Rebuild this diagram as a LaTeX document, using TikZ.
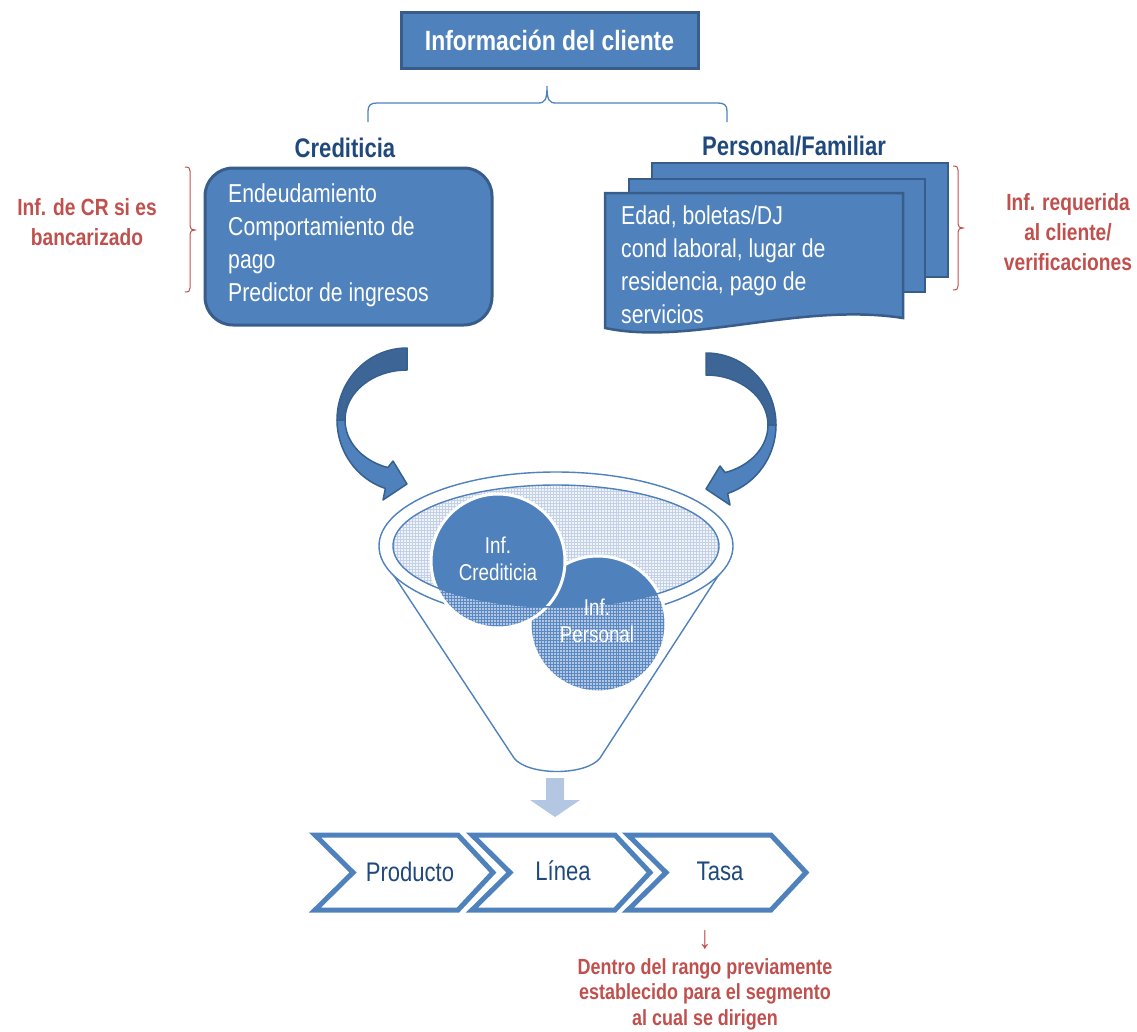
\documentclass[tikz,border=0pt]{standalone}
\usepackage{fontspec}
\setmainfont[FakeStretch=0.82]{Liberation Sans}
\usetikzlibrary{patterns}
\definecolor{bfill}{HTML}{4F81BD}
\definecolor{bdark}{HTML}{385D8A}
\definecolor{navy}{HTML}{1F497D}
\definecolor{redc}{HTML}{C0504D}
\definecolor{arrdarkc}{HTML}{3D6596}
\definecolor{arrline}{HTML}{35608F}
\definecolor{lightarr}{HTML}{B4C7E2}
\definecolor{gridlight}{HTML}{C3D1E6}
\definecolor{gridbg}{HTML}{F0F3F9}
\definecolor{gridmid}{HTML}{5A88C2}
\definecolor{gridmidbg}{HTML}{B3C6E2}
\newcommand\curvarrowshape{%
  \filldraw[arrdk] (0,72) arc[start angle=90,end angle=180,x radius=70,y radius=72]
     -- (-62,0) arc[start angle=180,end angle=90,x radius=62,y radius=50] -- cycle;
  \filldraw[arrlt] (-70,0) arc[start angle=180,end angle=252,x radius=70,y radius=72]
     -- (-24,-80) -- (0,-64) -- (-14,-41) -- (-19.16,-47.55)
     arc[start angle=252,end angle=180,x radius=62,y radius=50] -- cycle;}
\newcommand\chevronat[1]{%
  \draw[chev] (#1,-835) -- ++(143,0) -- ++(35,-37.5) -- ++(-35,-37.5) -- ++(-143,0) -- ++(38,37.5) -- cycle;}
\begin{document}
\begin{tikzpicture}[x=1bp,y=1bp,
  titlebox/.style={fill=bfill,draw=bdark,line width=3bp,text=white,inner sep=0pt,
    font=\bfseries\fontsize{28}{30}\selectfont},
  head/.style={text=navy,inner sep=0pt,font=\bfseries\fontsize{27}{30}\selectfont},
  cbox/.style={fill=bfill,draw=bdark,line width=3bp,inner sep=0pt},
  doc/.style={fill=bfill,draw=bdark,line width=2.5bp},
  doctxt/.style={text=white,inner sep=0pt,align=left,font=\fontsize{26}{33}\selectfont},
  redtxt/.style={text=redc,inner sep=0pt,align=center,font=\bfseries\fontsize{23.5}{30}\selectfont},
  redbrace/.style={draw=redc,line width=1bp},
  bluebrace/.style={draw=bfill,line width=1.3bp},
  arrdk/.style={fill=arrdarkc,draw=arrline,line width=1.5bp,line join=round},
  arrlt/.style={fill=bfill,draw=arrline,line width=1.5bp,line join=round},
  funline/.style={draw=bfill,line width=1.4bp},
  ctext/.style={text=white,inner sep=0pt,align=center,font=\fontsize{23}{27}\selectfont},
  chev/.style={draw=bfill,fill=white,line width=5bp,line join=miter},
  chevtxt/.style={text=navy,inner sep=0pt,font=\fontsize{27}{30}\selectfont}]
\useasboundingbox (0,0) rectangle (1137,-1032);

% title
\node[titlebox,minimum width=297bp,minimum height=56bp] (title) at (549.5,-40) {Información del cliente};

% top brace
\draw[bluebrace] (368,-122) -- (368,-111) .. controls (368,-105) and (371,-103) .. (377,-103)
  -- (538,-103) .. controls (545,-103) and (547,-100) .. (547,-86)
  .. controls (547,-100) and (549,-103) .. (556,-103) -- (718,-103)
  .. controls (724,-103) and (727,-105) .. (727,-111) -- (727,-122);

% headings
\node[head] (hcred) at (345,-148) {Crediticia};
\node[head] (hpers) at (794,-146) {Personal/Familiar};

% left box
\node[cbox,rounded corners=28bp,minimum width=287bp,minimum height=157bp] (credbox) at (348.5,-246.5) {};
\node[doctxt,anchor=west] (credtxt) at (228,-245)
  {Endeudamiento\\Comportamiento de\\pago\\Predictor de ingresos};

% multidocument
\filldraw[doc] (652,-163) rectangle (948,-277);
\filldraw[doc] (629,-179) rectangle (925,-292);
\filldraw[doc] (605,-193) -- (903,-193) -- (903,-318)
  .. controls (800,-302) and (690,-346) .. (605,-328) -- cycle;
\node[doctxt,anchor=west] (perstxt) at (621,-265)
  {Edad, boletas/DJ\\cond laboral, lugar de\\residencia, pago de\\servicios};

% red notes and brackets
\node[redtxt] (lnote) at (87,-222) {Inf. de CR si es\\bancarizado};
\node[redtxt] (rnote) at (1068,-232) {Inf. requerida\\al cliente/\\verificaciones};
\draw[redbrace] (185,-167) .. controls (189,-167) and (190,-168) .. (190,-171) -- (190,-226)
  .. controls (190,-229) and (192,-230) .. (195,-230)
  .. controls (192,-230) and (190,-231) .. (190,-234) -- (190,-288)
  .. controls (190,-291) and (189,-292) .. (185,-292);
\draw[redbrace] (953,-166) .. controls (957,-166) and (958,-167) .. (958,-170) -- (958,-224)
  .. controls (958,-227) and (960,-228) .. (963,-228)
  .. controls (960,-228) and (958,-229) .. (958,-232) -- (958,-286)
  .. controls (958,-289) and (957,-290) .. (953,-290);

% curved arrows
\begin{scope}[shift={(407,-420)}]
  \curvarrowshape
\end{scope}
\begin{scope}[shift={(706,-425)},xscale=-1]
  \curvarrowshape
\end{scope}

% funnel
\fill[white] (381,-556) -- (514,-758) .. controls (528,-776) and (586,-776) .. (600,-758) -- (731,-556) -- cycle;
\draw[funline] (381,-556) -- (514,-758) .. controls (528,-776) and (586,-776) .. (600,-758) -- (731,-556);
\filldraw[funline,fill=white] (556,-546) ellipse[x radius=177,y radius=74];
\path[preaction={fill=gridbg},pattern=grid,pattern color=gridlight] (556,-546) ellipse[x radius=163,y radius=61];

% circles
\path[preaction={fill=gridmidbg},pattern=grid,pattern color=gridmid] (598,-624) circle[radius=68];
\begin{scope}
  \clip (556,-546) ellipse[x radius=163,y radius=61];
  \fill[bfill] (598,-624) circle[radius=68];
\end{scope}
\draw[white,line width=3bp] (598,-624) circle[radius=68];
\path[preaction={fill=gridmidbg},pattern=grid,pattern color=gridmid] (498,-561) circle[radius=67];
\begin{scope}
  \clip (556,-546) ellipse[x radius=163,y radius=61];
  \fill[bfill] (498,-561) circle[radius=67];
\end{scope}
\draw[white,line width=3bp] (498,-561) circle[radius=67];
\draw[funline] (556,-546) ellipse[x radius=163,y radius=61];
\node[ctext] (tcred) at (498,-559) {Inf.\\Crediticia};
\node[ctext] (tpers) at (597,-621) {Inf.\\Personal};

% down block arrow
\fill[lightarr] (546,-778) -- (564,-778) -- (564,-800) -- (580,-800) -- (555,-817) -- (530,-800) -- (546,-800) -- cycle;

% chevrons
\chevronat{315}
\chevronat{472}
\chevronat{628}
\node[chevtxt] (prod) at (410,-872) {Producto};
\node[chevtxt] (lin) at (563,-871) {Línea};
\node[chevtxt] (tasa) at (720,-871) {Tasa};

% bottom note
\node[text=redc,inner sep=0pt,font=\fontsize{32}{34}\selectfont] (darr) at (705,-940) {↓};
\node[redtxt,font=\bfseries\fontsize{22}{25.5}\selectfont] (bnote) at (705,-994)
  {Dentro del rango previamente\\establecido para el segmento\\al cual se dirigen};
\end{tikzpicture}
\end{document}
